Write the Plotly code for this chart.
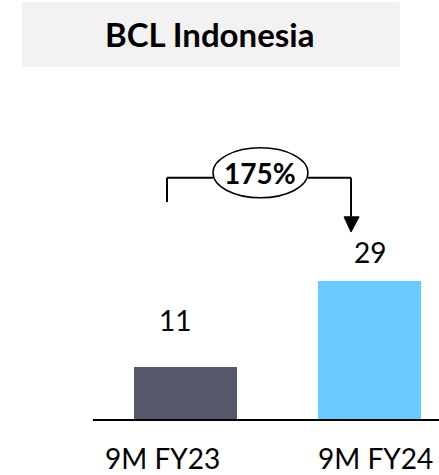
import plotly.graph_objects as go

categories = ["9M FY23", "9M FY24"]
values = [11, 29]
bar_colors = ["#565869", "#69CAFF"]
growth_label = "175%"
title_text = "BCL Indonesia"

FONT = "Lato"

fig = go.Figure()
fig.add_trace(go.Bar(
    x=[0, 1], y=values, width=0.56,
    marker=dict(color=bar_colors, line=dict(width=0)),
    hoverinfo="skip",
))

# value labels
label_shifts = [47, 29]
label_xshifts = [-11, 0]
for i, v in enumerate(values):
    fig.add_annotation(x=i, y=v, text=str(v), showarrow=False,
                       yanchor="middle", yshift=label_shifts[i], xshift=label_xshifts[i],
                       font=dict(family=FONT, size=28, color="black"))

# category labels (placed as text boxes, slightly offset like the source)
cat_xshifts = [-23, 6]
for i, c in enumerate(categories):
    fig.add_annotation(x=i, xref="x", y=0, yref="paper", text=c, showarrow=False,
                       xanchor="center", yanchor="middle", yshift=-39, xshift=cat_xshifts[i],
                       font=dict(family=FONT, size=28, color="black"))

# title box
fig.add_shape(type="rect", xref="paper", yref="paper",
              x0=-0.205, x1=0.887, y0=1.057, y1=1.252,
              fillcolor="#F2F2F2", line=dict(width=0), layer="below")
fig.add_annotation(xref="paper", yref="paper", x=0.338, y=1.156, text=f"<b>{title_text}</b>",
                   showarrow=False, xanchor="center", yanchor="middle",
                   font=dict(family=FONT, size=33, color="black"))

# growth bracket
line = dict(color="black", width=2)
yb = 50.7
fig.add_shape(type="line", x0=-0.101, x1=-0.101, y0=45.6, y1=yb, line=line)
fig.add_shape(type="line", x0=-0.101, x1=0.149, y0=yb, y1=yb, line=line)
fig.add_shape(type="line", x0=0.665, x1=0.899, y0=yb, y1=yb, line=line)
fig.add_shape(type="line", x0=0.899, x1=0.899, y0=yb, y1=42.5, line=line)
fig.add_shape(type="path", path="M 0.861,42.5 L 0.943,42.5 L 0.899,39.3 Z",
              fillcolor="black", line=dict(color="black", width=1))
fig.add_shape(type="circle", x0=0.149, x1=0.665, y0=46.5, y1=57.0,
              line=dict(color="black", width=1.5), fillcolor="white")
fig.add_annotation(x=0.407, y=51.7, text=f"<b>{growth_label}</b>", showarrow=False,
                   font=dict(family=FONT, size=28, color="black"))

fig.update_layout(
    width=439, height=475,
    margin=dict(l=93, r=0, t=86, b=56, autoexpand=False),
    paper_bgcolor="white", plot_bgcolor="white",
    showlegend=False, bargap=0,
    xaxis=dict(range=[-0.503, 1.377], tickmode="array", tickvals=[0, 1],
               showticklabels=False,
               showline=True, linecolor="black", linewidth=2, showgrid=False, zeroline=False,
               ticks="", automargin=False, fixedrange=True),
    yaxis=dict(range=[0, 70], visible=False, showgrid=False, zeroline=False,
               automargin=False, fixedrange=True),
)

fig.write_html("out.html", config=dict(displayModeBar=False))

with open("out.html", "r", encoding="utf-8") as f:
    html = f.read()
html = html.replace("<head>", "<head><style>html,body{margin:0;padding:0;overflow:hidden;}</style>", 1)
with open("out.html", "w", encoding="utf-8") as f:
    f.write(html)
